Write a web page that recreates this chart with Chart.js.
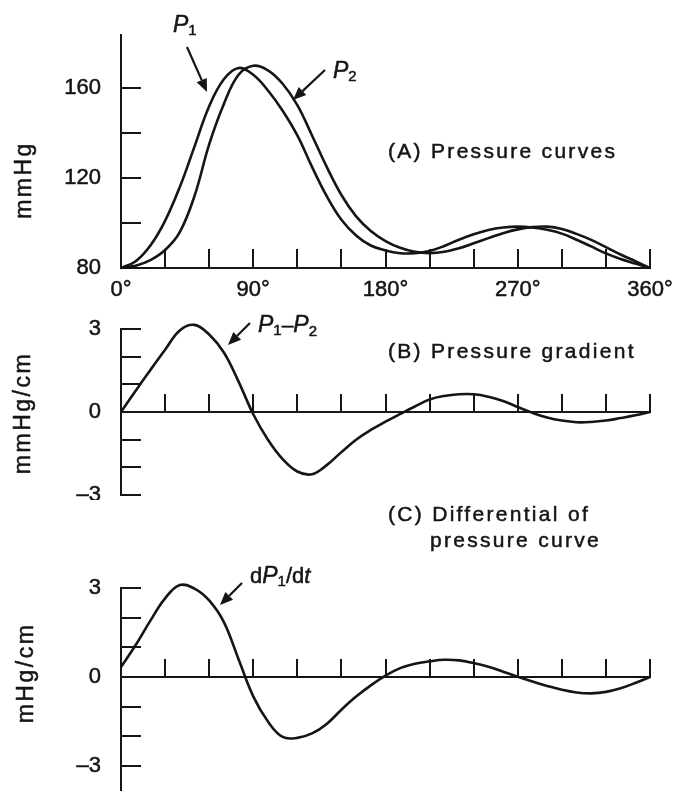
<!DOCTYPE html>
<html>
<head>
<meta charset="utf-8">
<script src="https://cdn.jsdelivr.net/npm/chart.js@4.4.0/dist/chart.umd.min.js"></script>
<style>
  html, body { margin: 0; padding: 0; background: #fff; overflow: hidden; }
  #page { position: relative; width: 677px; height: 791px; background: #fff; }
  canvas { position: absolute; left: 0; }
</style>
</head>
<body>
<div id="page">
  <canvas id="chartA" width="677" height="310" style="top:0px"></canvas>
  <canvas id="chartB" width="677" height="190" style="top:310px"></canvas>
  <canvas id="chartC" width="677" height="291" style="top:500px"></canvas>
</div>
<script>
// phase angle (degrees), shared by all three panels
const angles = [0, 10, 20, 30, 40, 50, 60, 70, 80, 90, 100, 110, 120, 130, 140, 150, 160, 170, 180,
  190, 200, 210, 220, 230, 240, 250, 260, 270, 280, 290, 300, 310, 320, 330, 340, 350, 360];

// (A) pressure curves, mmHg
const p1Values = [80, 83, 90, 101, 116, 134, 152, 164, 169, 166, 159, 150, 139, 125, 112, 101.5, 94.5, 90, 87.8,
  86.6, 86.6, 87.6, 89.8, 92.6, 95, 96.9, 98, 98.4, 98, 97, 95.3, 92.6, 89.6, 86.5, 84, 82, 80];
const p2Values = [80, 81, 83.5, 88, 96, 112, 135, 153, 166, 170, 168, 162, 152.5, 139, 125, 112.5, 103, 96.5, 92,
  89, 87.2, 86.6, 87.2, 88.8, 91, 93.3, 95.5, 97.2, 98.2, 98.4, 97.4, 95.2, 92.5, 89.3, 86, 83, 80];

// (B) pressure gradient P1-P2, mmHg/cm
const gradValues = [0, 0.77, 1.52, 2.25, 2.95, 3.15, 2.8, 2.15, 1.1, -0.08, -1.0, -1.7, -2.15, -2.25, -1.92, -1.45, -1.0, -0.65, -0.35,
  -0.07, 0.2, 0.45, 0.58, 0.64, 0.64, 0.55, 0.4, 0.18, -0.03, -0.2, -0.31, -0.37, -0.36, -0.31, -0.22, -0.12, 0];

// (C) differential of pressure curve dP1/dt
const diffValues = [0.34, 1.08, 1.9, 2.65, 3.1, 2.98, 2.58, 1.85, 0.6, -0.65, -1.5, -2.02, -2.05, -1.9, -1.58, -1.1, -0.66, -0.28, 0.05,
  0.3, 0.45, 0.53, 0.58, 0.56, 0.47, 0.35, 0.18, 0.01, -0.15, -0.3, -0.43, -0.52, -0.55, -0.5, -0.38, -0.2, 0];

// tick labels
const xLabelAngles = [0, 90, 180, 270, 360];
const xLabels = ['0°', '90°', '180°', '270°', '360°'];
const yLabelValuesA = [80, 120, 160];
const yLabelsA = ['80', '120', '160'];
const yLabelValuesBC = [-3, 0, 3];
const yLabelsBC = ['\u20133', '0', '3'];

const FONT = "'Liberation Sans', Arial, Helvetica, sans-serif";
const INK = '#151515';

function arrow(ctx, x1, y1, x2, y2) {
  const a = Math.atan2(y2 - y1, x2 - x1);
  const len = 13, half = 5.5;
  const bx = x2 - len * Math.cos(a), by = y2 - len * Math.sin(a);
  ctx.lineWidth = 2.2;
  ctx.beginPath();
  ctx.moveTo(x1, y1);
  ctx.lineTo(bx, by);
  ctx.stroke();
  ctx.beginPath();
  ctx.moveTo(x2, y2);
  ctx.lineTo(bx + half * Math.sin(a), by - half * Math.cos(a));
  ctx.lineTo(bx - half * Math.sin(a), by + half * Math.cos(a));
  ctx.closePath();
  ctx.fill();
}

function drawRuns(ctx, x, y, runs) {
  runs.forEach(r => {
    ctx.font = (r.italic ? 'italic ' : '') + r.size + 'px ' + FONT;
    ctx.fillText(r.t, x, y + (r.dy || 0));
    ctx.strokeText(r.t, x, y + (r.dy || 0));
    x += ctx.measureText(r.t).width + (r.gap || 0);
  });
}

// annotations, given in page coordinates
function notesPlugin(top, notes) {
  return {
    id: 'notes',
    afterDraw(chart) {
      const ctx = chart.ctx;
      ctx.save();
      ctx.translate(0, -top);
      ctx.fillStyle = INK;
      ctx.strokeStyle = INK;
      ctx.textBaseline = 'alphabetic';
      ctx.lineWidth = 0.5;
      (notes.texts || []).forEach(n => {
        ctx.letterSpacing = (n.ls || 0) + 'px';
        ctx.font = n.size + 'px ' + FONT;
        ctx.textAlign = 'left';
        ctx.fillText(n.text, n.x, n.y);
        ctx.strokeText(n.text, n.x, n.y);
      });
      ctx.letterSpacing = '0px';
      (notes.runs || []).forEach(r => drawRuns(ctx, r.x, r.y, r.parts));
      (notes.titles || []).forEach(t => {
        ctx.save();
        ctx.translate(t.x, t.y);
        ctx.rotate(-Math.PI / 2);
        ctx.letterSpacing = '2.5px';
        ctx.font = '23px ' + FONT;
        ctx.textAlign = 'center';
        ctx.textBaseline = 'middle';
        ctx.fillText(t.text, 0, 0);
        ctx.strokeText(t.text, 0, 0);
        ctx.restore();
      });
      (notes.arrows || []).forEach(a => arrow(ctx, a[0], a[1], a[2], a[3]));
      ctx.restore();
    }
  };
}

function makeChart(id, cfg) {
  const series = cfg.series.map(vals => ({
    data: angles.map((x, i) => ({ x: x, y: vals[i] })),
    borderColor: INK,
    borderWidth: 2.6,
    pointRadius: 0,
    fill: false,
    clip: false,
    tension: 0.4
  }));
  return new Chart(document.getElementById(id), {
    type: 'line',
    data: { datasets: series },
    options: {
      responsive: false,
      animation: false,
      events: [],
      layout: { padding: cfg.padding },
      plugins: { legend: { display: false }, tooltip: { enabled: false } },
      scales: {
        x: {
          type: 'linear',
          min: 0,
          max: 360,
          position: cfg.xPosition,
          ticks: {
            stepSize: 30,
            display: cfg.showXLabels,
            autoSkip: false,
            maxRotation: 0,
            padding: 28,
            color: INK,
            textStrokeColor: INK,
            textStrokeWidth: 0.5,
            font: { family: FONT, size: 22 },
            callback: v => {
              const k = xLabelAngles.indexOf(v);
              return k >= 0 ? xLabels[k] : '';
            }
          },
          grid: { drawOnChartArea: false, drawTicks: true, tickLength: -19, color: INK, lineWidth: 2 },
          border: { display: true, color: INK, width: 2 },
          afterFit: s => {
            if (cfg.xHeight) s.height = cfg.xHeight;
            s.paddingLeft = 0;
            s.paddingRight = 0;
          }
        },
        y: {
          type: 'linear',
          min: cfg.yMin,
          max: cfg.yMax,
          position: 'left',
          ticks: {
            stepSize: cfg.yStep,
            includeBounds: false,
            autoSkip: false,
            padding: 40,
            color: INK,
            textStrokeColor: INK,
            textStrokeWidth: 0.5,
            font: { family: FONT, size: 22 },
            callback: v => {
              const k = cfg.yLabelValues.indexOf(v);
              return k >= 0 ? cfg.yLabels[k] : '';
            }
          },
          grid: { drawOnChartArea: false, drawTicks: true, tickLength: -20, color: INK, lineWidth: 2 },
          border: { display: true, color: INK, width: 2 },
          afterBuildTicks: s => {
            s.ticks = s.ticks.filter(t => t.value >= cfg.yLo && t.value <= cfg.yHi);
          },
          afterFit: s => { s.width = 121; s.paddingTop = 0; s.paddingBottom = 0; }
        }
      }
    },
    plugins: [notesPlugin(cfg.top, cfg.notes)]
  });
}

const subP = (d) => [{ t: 'P', italic: true, size: 23 }, { t: d, size: 15, dy: 3 }];

makeChart('chartA', {
  top: 0,
  series: [p1Values, p2Values],
  padding: { top: 35, right: 27, left: 0, bottom: 0 },
  xPosition: 'bottom',
  showXLabels: true,
  xHeight: 42,
  yMin: 80, yMax: 183.7, yStep: 20, yLo: 80, yHi: 160,
  yLabelValues: yLabelValuesA, yLabels: yLabelsA,
  notes: {
    texts: [{ text: '(A) Pressure curves', x: 388, y: 158, size: 21, ls: 2.3 }],
    runs: [
      { x: 173, y: 32, parts: subP('1') },
      { x: 333, y: 78, parts: subP('2') }
    ],
    arrows: [[187, 47, 207, 92], [325, 70, 293, 100]],
    titles: [{ text: 'mmHg', x: 25, y: 180 }]
  }
});

makeChart('chartB', {
  top: 310,
  series: [gradValues],
  padding: { top: 19, right: 27, left: 0, bottom: 5 },
  xPosition: { y: 0 },
  showXLabels: false,
  yMin: -3, yMax: 3, yStep: 1, yLo: -3, yHi: 3,
  yLabelValues: yLabelValuesBC, yLabels: yLabelsBC,
  notes: {
    texts: [{ text: '(B) Pressure gradient', x: 388, y: 358, size: 21, ls: 2.3 }],
    runs: [{ x: 258, y: 332, parts: [
      { t: 'P', italic: true, size: 23 }, { t: '1', size: 15, dy: 3 },
      { t: '\u2013', size: 21 },
      { t: 'P', italic: true, size: 23 }, { t: '2', size: 15, dy: 4 }
    ] }],
    arrows: [[250, 323, 228, 345]],
    titles: [{ text: 'mmHg/cm', x: 24, y: 413 }]
  }
});

makeChart('chartC', {
  top: 500,
  series: [diffValues],
  padding: { top: 88, right: 27, left: 0, bottom: 0 },
  xPosition: { y: 0 },
  showXLabels: false,
  yMin: -3.84, yMax: 3, yStep: 1, yLo: -3, yHi: 3,
  yLabelValues: yLabelValuesBC, yLabels: yLabelsBC,
  notes: {
    texts: [
      { text: '(C) Differential of', x: 388, y: 521, size: 21, ls: 2.3 },
      { text: 'pressure curve', x: 430, y: 547, size: 21, ls: 2.3 }
    ],
    runs: [{ x: 250, y: 583, parts: [
      { t: 'd', size: 22 },
      { t: 'P', italic: true, size: 23 }, { t: '1', size: 15, dy: 3 },
      { t: '/d', size: 22 },
      { t: 't', italic: true, size: 22 }
    ] }],
    arrows: [[242, 583, 220, 605]],
    titles: [{ text: 'mHg/cm', x: 27, y: 673 }]
  }
});
</script>
</body>
</html>
